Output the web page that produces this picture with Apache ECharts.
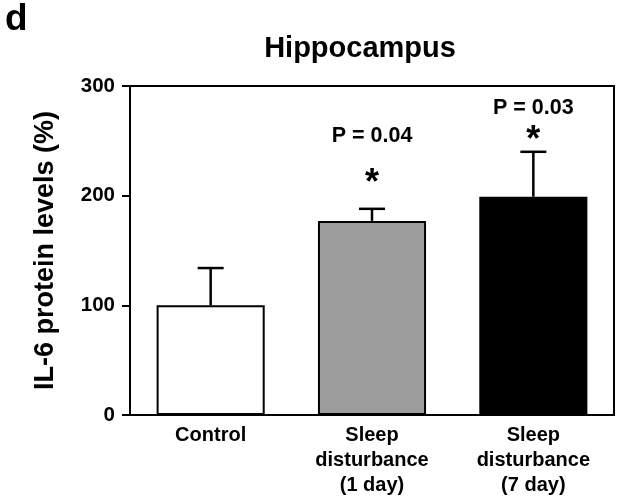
<!DOCTYPE html>
<html>
<head>
<meta charset="utf-8">
<script src="https://cdn.jsdelivr.net/npm/echarts@6/dist/echarts.min.js"></script>
<style>
  html, body { margin: 0; padding: 0; background: #fff; }
  #chart { width: 624px; height: 500px; }
</style>
</head>
<body>
<div id="chart"></div>
<script>
const categories = ["Control", "Sleep\ndisturbance\n(1 day)", "Sleep\ndisturbance\n(7 day)"];
const means = [100, 177, 199];
const errUpper = [134, 188, 240];
const barColors = ["#ffffff", "#9d9d9d", "#000000"];
const pLabels = ["", "P = 0.04", "P = 0.03"];
const pLabelY = [null, 254, 280];
const starY = [null, 218, 257];
const yTicks = [0, 100, 200, 300];

const font = "'Liberation Sans', Arial, sans-serif";
const chart = echarts.init(document.getElementById("chart"));

const option = {
  animation: false,
  textStyle: { fontFamily: font },
  graphic: [
    {
      type: "text",
      left: 5,
      top: 1,
      style: { text: "d", font: "bold 37px " + font, fill: "#000" },
    },
  ],
  title: {
    text: "Hippocampus",
    left: 355,
    top: 29,
    textAlign: "center",
    textStyle: { fontFamily: font, fontSize: 29, fontWeight: "bold", color: "#000" },
  },
  grid: {
    left: 130,
    right: 10,
    top: 86,
    bottom: 85,
    show: true,
    borderColor: "#000",
    borderWidth: 2,
    backgroundColor: "transparent",
  },
  xAxis: {
    type: "category",
    data: categories,
    axisLine: { lineStyle: { color: "#000", width: 2 } },
    axisTick: { show: false },
    axisLabel: {
      color: "#000",
      fontFamily: font,
      fontSize: 20,
      fontWeight: "bold",
      lineHeight: 25,
      margin: 8,
    },
  },
  yAxis: {
    type: "value",
    min: 0,
    max: 300,
    interval: 100,
    name: "IL-6 protein levels (%)",
    nameLocation: "middle",
    nameGap: 71,
    nameTextStyle: { color: "#000", fontFamily: font, fontSize: 27, fontWeight: "bold" },
    axisLine: { show: true, lineStyle: { color: "#000", width: 2 } },
    axisTick: { show: true, length: 8, lineStyle: { color: "#000", width: 2 } },
    splitLine: { show: false },
    axisLabel: {
      color: "#000",
      fontFamily: font,
      fontSize: 20.5,
      fontWeight: "bold",
      margin: 15,
      formatter: (v) => (yTicks.includes(v) ? String(v) : ""),
    },
  },
  series: [
    {
      type: "bar",
      barWidth: "67%",
      data: means.map((v, i) => ({
        value: v,
        itemStyle: { color: barColors[i], borderColor: "#000", borderWidth: 2 },
      })),
      z: 2,
    },
    {
      type: "custom",
      z: 3,
      data: means.map((v, i) => [i, v, errUpper[i]]),
      renderItem: function (params, api) {
        const base = api.coord([api.value(0), api.value(1)]);
        const top = api.coord([api.value(0), api.value(2)]);
        const half = 13;
        const style = { stroke: "#000", lineWidth: 2.5 };
        return {
          type: "group",
          children: [
            { type: "line", shape: { x1: base[0], y1: base[1], x2: top[0], y2: top[1] }, style },
            { type: "line", shape: { x1: top[0] - half, y1: top[1], x2: top[0] + half, y2: top[1] }, style },
          ],
        };
      },
    },
    {
      type: "custom",
      z: 4,
      data: pLabels.map((t, i) => [i, pLabelY[i], starY[i]]),
      renderItem: function (params, api) {
        const i = params.dataIndex;
        if (!pLabels[i]) return null;
        const p = api.coord([api.value(0), api.value(1)]);
        const s = api.coord([api.value(0), api.value(2)]);
        return {
          type: "group",
          children: [
            {
              type: "text",
              x: p[0],
              y: p[1],
              style: {
                text: pLabels[i],
                font: "bold 21.5px " + font,
                fill: "#000",
                align: "center",
                verticalAlign: "middle",
              },
            },
            {
              type: "text",
              x: s[0],
              y: s[1] + 8,
              style: {
                text: "*",
                font: "bold 36px " + font,
                fill: "#000",
                align: "center",
                verticalAlign: "middle",
              },
            },
          ],
        };
      },
    },
  ],
};

chart.setOption(option);
</script>
</body>
</html>
